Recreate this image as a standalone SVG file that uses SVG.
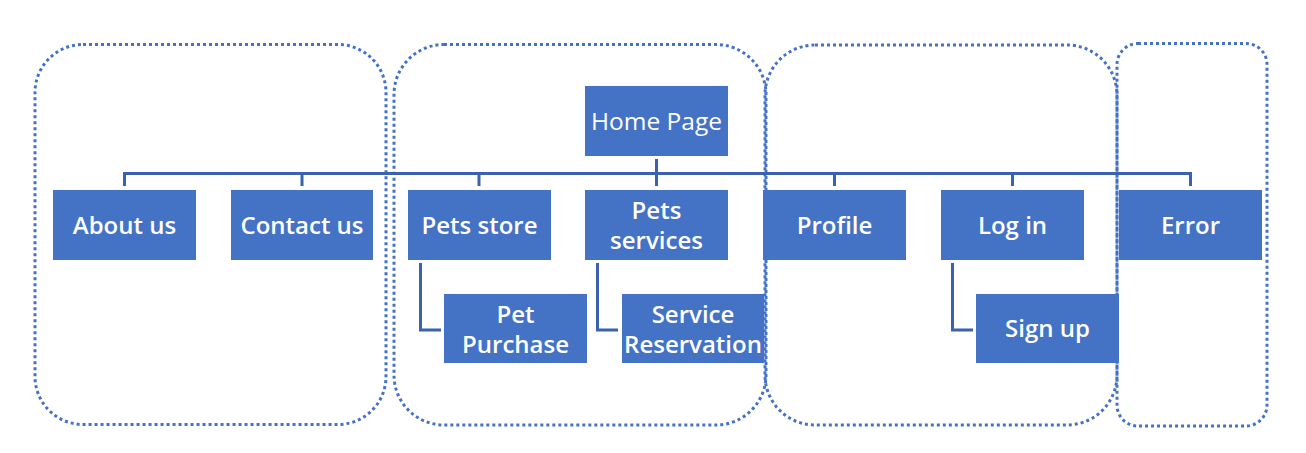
<svg xmlns="http://www.w3.org/2000/svg" width="1306" height="453" viewBox="0 0 1306 453">
<style>
.grp{fill:none;stroke:#4472C4;stroke-width:3;stroke-dasharray:3 3}
.node{fill:#4472C4}
.lbl{font-family:"Open Sans","Noto Sans",sans-serif;font-weight:600;font-size:24px;fill:#fff;text-anchor:middle}
.lblr{font-family:"Open Sans","Noto Sans",sans-serif;font-weight:400;font-size:24.5px;fill:#fff;text-anchor:middle}
.con{fill:none;stroke:#3B62AD;stroke-width:3}
</style>
<rect width="1306" height="453" fill="#fff"/>
<g id="groups">
<rect class="grp" x="35" y="44.5" width="351" height="380" rx="48"/>
<rect class="grp" x="394" y="44.5" width="372" height="380.5" rx="50"/>
<rect class="grp" x="765" y="45" width="352" height="380" rx="50"/>
<rect class="grp" x="1117" y="43.5" width="150" height="382.5" rx="21"/>
</g>
<g id="connectors">
<path class="con" d="M124.5 186V173.5H1190.5V186"/>
<path class="con" d="M656.5 159V186"/>
<path class="con" d="M302 173.5V186M479 173.5V186M834.5 173.5V186M1012.5 173.5V186"/>
<path class="con" d="M420.5 263V330H441"/>
<path class="con" d="M597.5 263V330H618"/>
<path class="con" d="M952.5 263V330H973"/>
</g>
<g id="home"><rect class="node" x="585" y="86" width="143" height="70"/><text class="lblr" x="656.5" y="130">Home Page</text></g>
<g id="about"><rect class="node" x="53" y="190" width="143" height="70"/><text class="lbl" x="124.5" y="234">About us</text></g>
<g id="contact"><rect class="node" x="231" y="190" width="142" height="70"/><text class="lbl" x="302" y="234">Contact us</text></g>
<g id="store"><rect class="node" x="408" y="190" width="143" height="70"/><text class="lbl" x="479.5" y="234">Pets store</text></g>
<g id="services"><rect class="node" x="585" y="190" width="143" height="70"/><text class="lbl" x="656.5" y="218.5">Pets</text><text class="lbl" x="656.5" y="249">services</text></g>
<g id="profile"><rect class="node" x="763" y="190" width="143" height="70"/><text class="lbl" x="834.5" y="234">Profile</text></g>
<g id="login"><rect class="node" x="941" y="190" width="143" height="70"/><text class="lbl" x="1012.5" y="234">Log in</text></g>
<g id="error"><rect class="node" x="1119" y="190" width="143" height="70"/><text class="lbl" x="1190.5" y="234">Error</text></g>
<g id="purchase"><rect class="node" x="444" y="294" width="143" height="69"/><text class="lbl" x="515.5" y="322.5">Pet</text><text class="lbl" x="515.5" y="353">Purchase</text></g>
<g id="reservation"><rect class="node" x="622" y="294" width="142" height="69"/><text class="lbl" x="693" y="322.5">Service</text><text class="lbl" x="693" y="353">Reservation</text></g>
<g id="signup"><rect class="node" x="976" y="294" width="143" height="69"/><text class="lbl" x="1047.5" y="337">Sign up</text></g>
</svg>
